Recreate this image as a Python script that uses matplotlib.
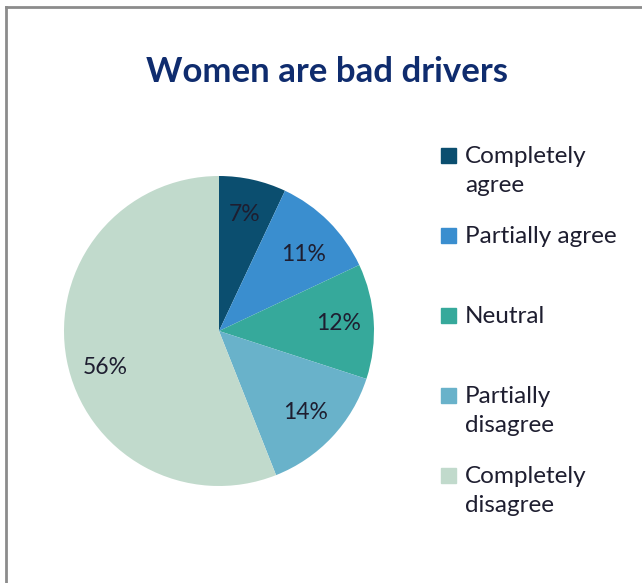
import matplotlib
matplotlib.use("Agg")
import matplotlib.pyplot as plt
from matplotlib.patches import Rectangle
from matplotlib.lines import Line2D

categories = ["Completely\nagree", "Partially agree", "Neutral", "Partially\ndisagree", "Completely\ndisagree"]
values = [7, 11, 12, 14, 56]
colors = ["#0B4E6F", "#3A8ECF", "#36A99B", "#69B2CA", "#C1DACC"]
title = "Women are bad drivers"

plt.rcParams['font.family'] = ['Lato', 'DejaVu Sans']

W, H = 642, 583
fig = plt.figure(figsize=(W / 100, H / 100), dpi=100)
fig.patch.set_facecolor("white")

# frame (left and top edges visible)
fig.add_artist(Line2D([6 / W, 6 / W], [0, 1 - 7 / H], color="#8c8c8c", lw=2, transform=fig.transFigure))
fig.add_artist(Line2D([6 / W, 1], [1 - 7 / H, 1 - 7 / H], color="#8c8c8c", lw=2, transform=fig.transFigure))

fig.text(327 / W, 1 - 72 / H, title, ha="center", va="center", fontsize=25, fontweight="bold", color="#0F2C6E")

cx, cy, r = 219, 331, 155
ax = fig.add_axes([(cx - r) / W, 1 - (cy + r) / H, 2 * r / W, 2 * r / H])
wedges, texts, autotexts = ax.pie(values, colors=colors, startangle=90, counterclock=False,
       autopct=lambda p: f"{p:.0f}%", pctdistance=0.77,
       wedgeprops=dict(linewidth=0),
       textprops=dict(fontsize=16.5, color="#1E1E30"))
ax.set_xlim(-1, 1)
ax.set_ylim(-1, 1)
ax.set_aspect("equal")
ax.axis("off")
x5, y5 = autotexts[4].get_position()
autotexts[4].set_position((x5 + 0.02, y5 - 0.09))
x2, y2 = autotexts[1].get_position()
autotexts[1].set_position((x2, y2 - 0.05))

# legend
y0, dy = 155, 80
for i, (lab, col) in enumerate(zip(categories, colors)):
    y = y0 + i * dy
    fig.add_artist(Rectangle((441 / W, 1 - (y + 8) / H), 15 / W, 15 / H, color=col, transform=fig.transFigure))
    fig.text(465 / W, 1 - (y - 9) / H, lab, ha="left", va="top", fontsize=17.5, color="#1E1E30", linespacing=1.5)

fig.savefig("out.png", dpi=100, facecolor="white")
